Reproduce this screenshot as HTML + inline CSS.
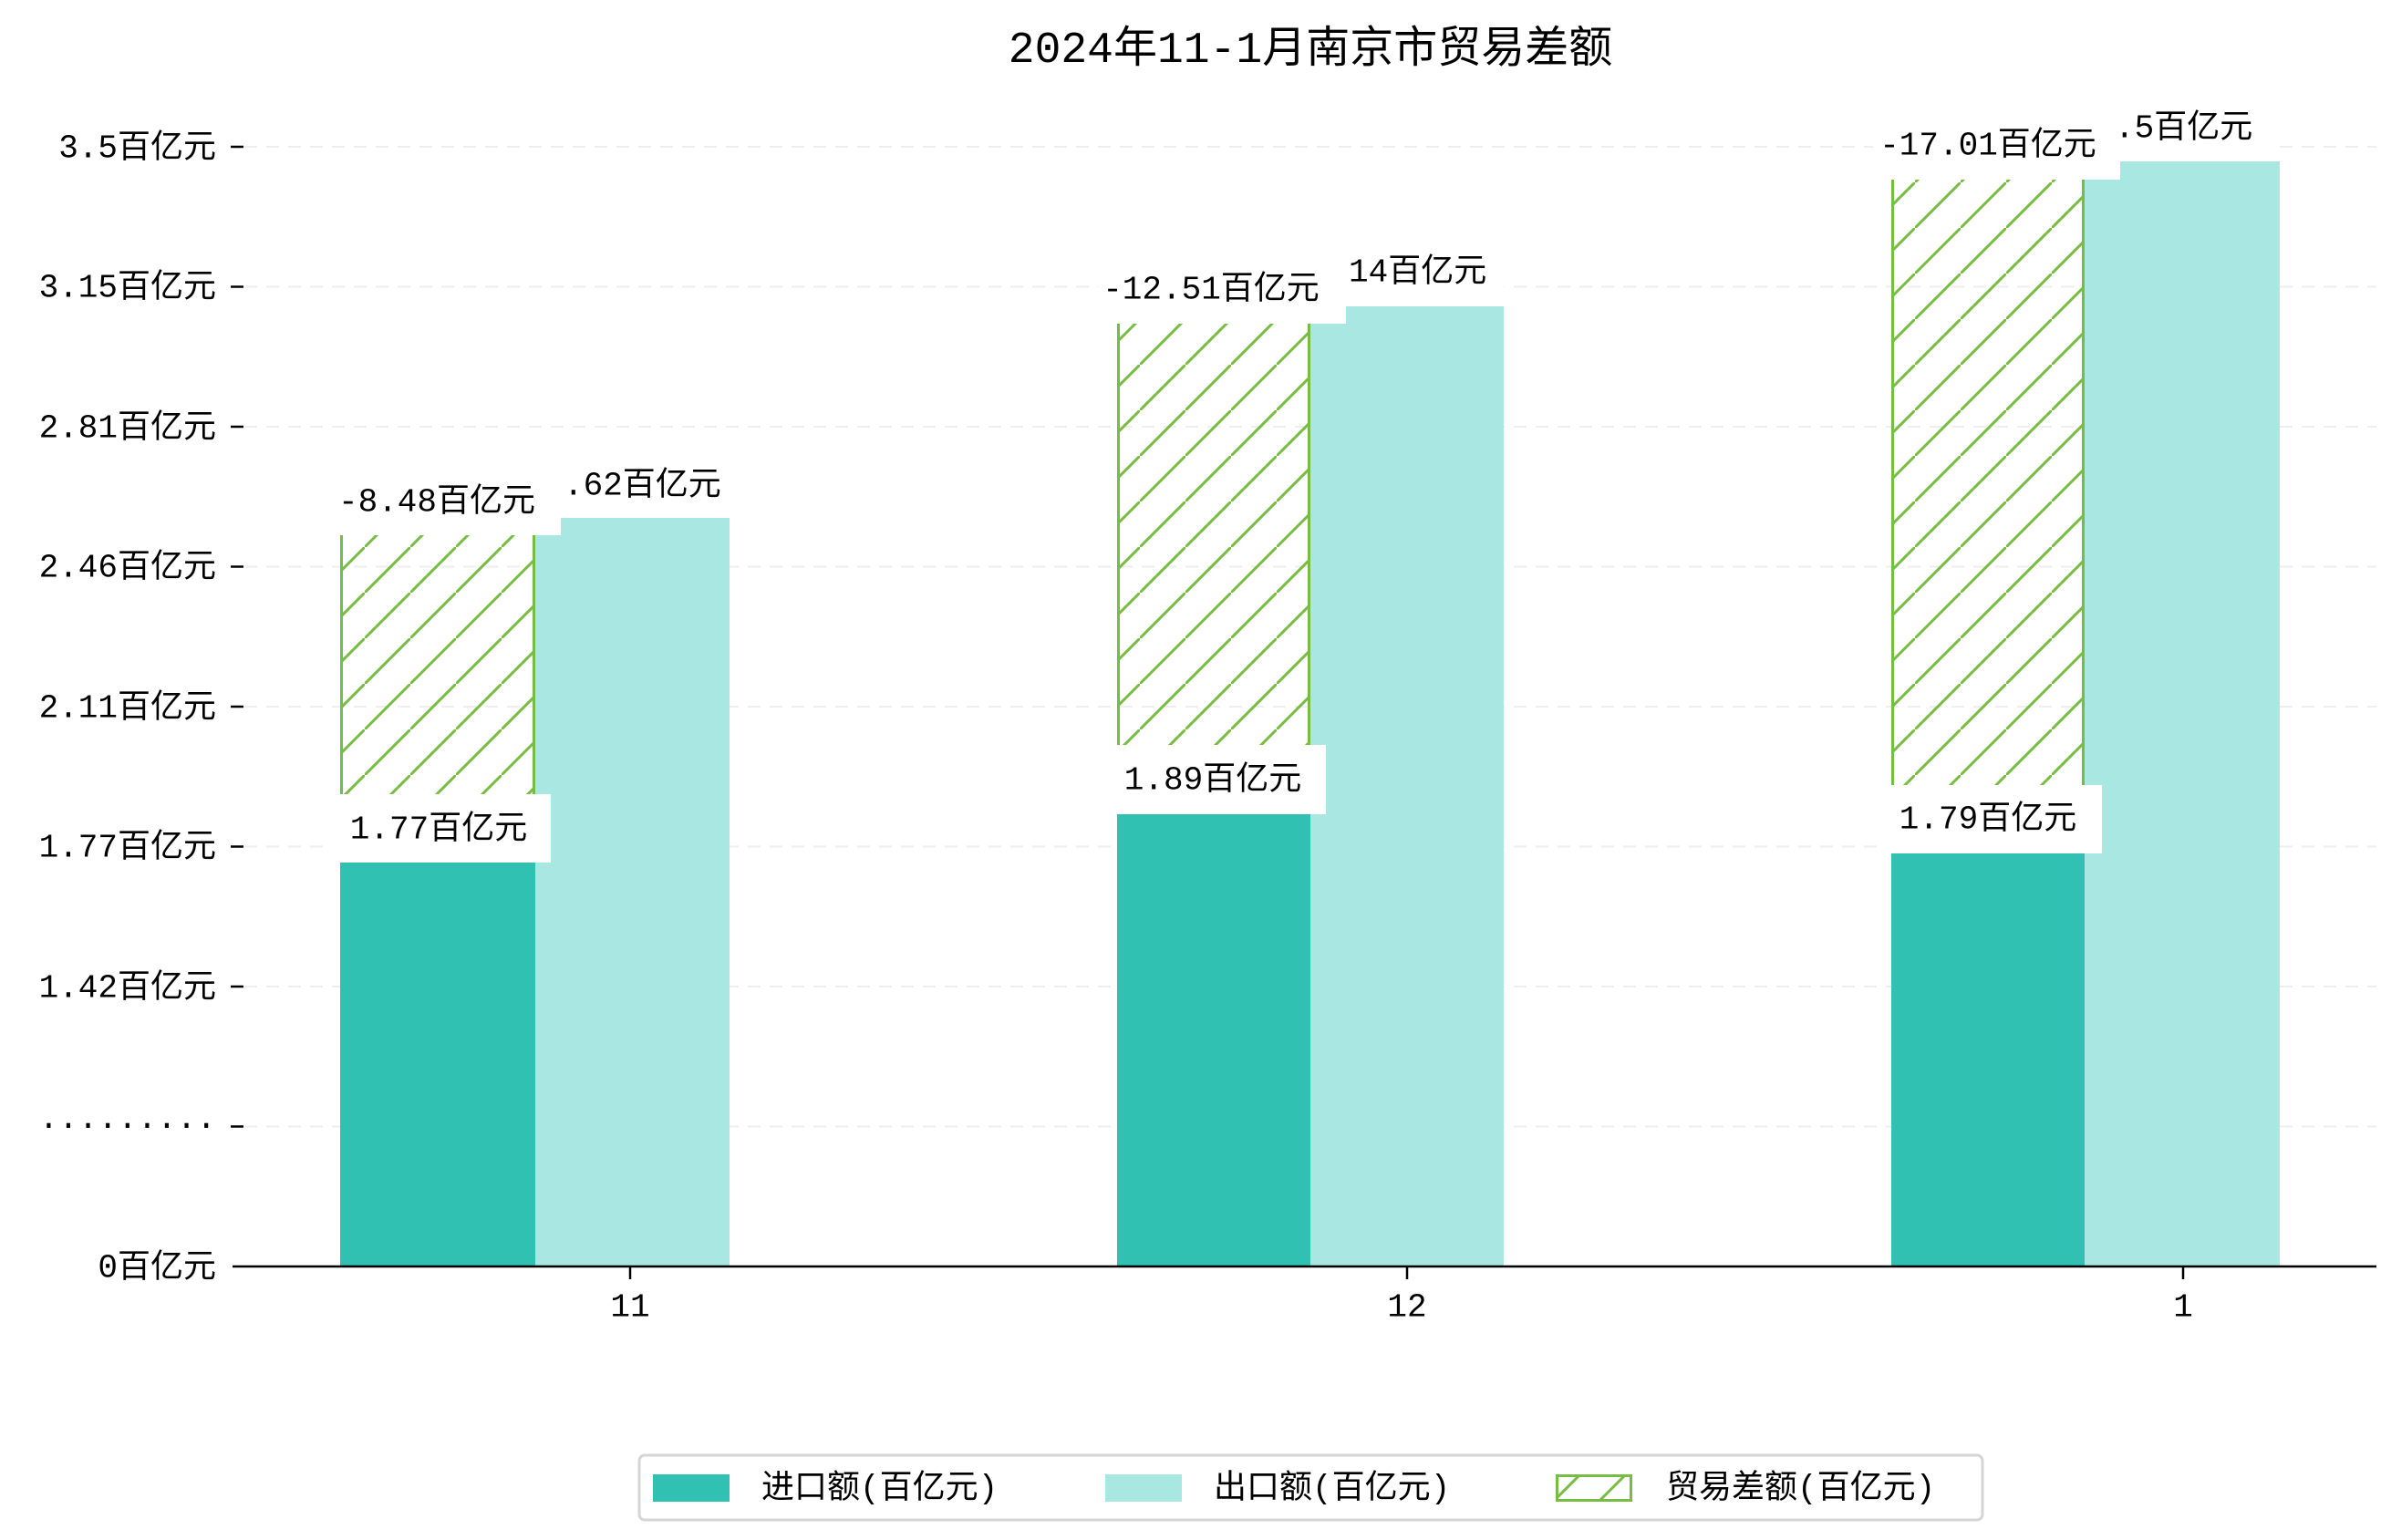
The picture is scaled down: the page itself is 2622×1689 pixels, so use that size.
<!DOCTYPE html>
<html><head><meta charset="utf-8"><style>
html,body{margin:0;padding:0;background:#fff}
svg{display:block}
text{font-family:"WenQuanYi Zen Hei","Liberation Mono","Noto Sans CJK SC",monospace;fill:#000}
</style></head><body>
<svg width="2622" height="1689" viewBox="0 0 2622 1689" xmlns="http://www.w3.org/2000/svg">
<defs>
<pattern id="h" patternUnits="userSpaceOnUse" width="50" height="50">
<line x1="-5" y1="55" x2="55" y2="-5" stroke="#78bd43" stroke-width="3"/>
</pattern>
</defs>
<text x="1437" y="56" font-size="48" text-anchor="middle" dominant-baseline="central">2024年11-1月南京市贸易差额</text>
<g stroke="#eeeeee" stroke-width="2" stroke-dasharray="14,10">
<line x1="268" y1="161" x2="2606" y2="161"/><line x1="268" y1="314.5" x2="2606" y2="314.5"/>
<line x1="268" y1="468" x2="2606" y2="468"/><line x1="268" y1="621.5" x2="2606" y2="621.5"/>
<line x1="268" y1="775" x2="2606" y2="775"/><line x1="268" y1="928.5" x2="2606" y2="928.5"/>
<line x1="268" y1="1082" x2="2606" y2="1082"/><line x1="268" y1="1235.5" x2="2606" y2="1235.5"/>
</g>
<g stroke="#000" stroke-width="2.5">
<line x1="253" y1="161" x2="267" y2="161"/><line x1="253" y1="314.5" x2="267" y2="314.5"/>
<line x1="253" y1="468" x2="267" y2="468"/><line x1="253" y1="621.5" x2="267" y2="621.5"/>
<line x1="253" y1="775" x2="267" y2="775"/><line x1="253" y1="928.5" x2="267" y2="928.5"/>
<line x1="253" y1="1082" x2="267" y2="1082"/><line x1="253" y1="1235.5" x2="267" y2="1235.5"/>
<line x1="691" y1="1389" x2="691" y2="1403"/><line x1="1543" y1="1389" x2="1543" y2="1403"/><line x1="2394" y1="1389" x2="2394" y2="1403"/>
</g>
<g font-size="36" text-anchor="end" dominant-baseline="central">
<text x="237" y="163">3.5百亿元</text><text x="237" y="316">3.15百亿元</text>
<text x="237" y="470">2.81百亿元</text><text x="237" y="623">2.46百亿元</text>
<text x="237" y="777">2.11百亿元</text><text x="237" y="930">1.77百亿元</text>
<text x="237" y="1084">1.42百亿元</text><text x="237" y="1235">·········</text>
<text x="237" y="1391">0百亿元</text>
</g>
<g font-size="36" text-anchor="middle" dominant-baseline="central">
<text x="691" y="1434">11</text><text x="1543" y="1434">12</text><text x="2394" y="1434">1</text>
</g>
<rect x="373" y="946" width="214" height="443" fill="#31c1b3"/>
<rect x="587" y="568" width="213" height="821" fill="#a9e8e2"/>
<rect x="1225" y="893" width="212" height="496" fill="#31c1b3"/>
<rect x="1437" y="336" width="212" height="1053" fill="#a9e8e2"/>
<rect x="2074" y="936" width="212" height="453" fill="#31c1b3"/>
<rect x="2286" y="177" width="214" height="1212" fill="#a9e8e2"/>
<g fill="url(#h)">
<rect x="373" y="587" width="214" height="359"/>
<rect x="1225" y="355" width="212" height="538"/>
<rect x="2074" y="197" width="212" height="739"/>
</g>
<g stroke="#78bd43" stroke-width="3">
<line x1="374.5" y1="587" x2="374.5" y2="946"/><line x1="585.5" y1="587" x2="585.5" y2="946"/>
<line x1="1226.5" y1="355" x2="1226.5" y2="893"/><line x1="1435.5" y1="355" x2="1435.5" y2="893"/>
<line x1="2075.5" y1="197" x2="2075.5" y2="936"/><line x1="2284.5" y1="197" x2="2284.5" y2="936"/>
</g>
<line x1="255" y1="1389" x2="2606" y2="1389" stroke="#000" stroke-width="2.5"/>
<g fill="#fff">
<rect x="615" y="504" width="185" height="64"/>
<rect x="1476" y="274" width="173" height="62"/>
<rect x="2325" y="114" width="175" height="63"/>
<rect x="356" y="521" width="259" height="66"/>
<rect x="1205" y="289" width="271" height="66"/>
<rect x="2054" y="131" width="271" height="66"/>
<rect x="356" y="871" width="248" height="75"/>
<rect x="1209" y="817" width="245" height="76"/>
<rect x="2058" y="861" width="247" height="75"/>
</g>
<g font-size="36" dominant-baseline="central">
<text x="618" y="533">.62百亿元</text>
<text x="1479" y="299">14百亿元</text>
<text x="2319" y="141">.5百亿元</text>
</g>
<g font-size="36" text-anchor="middle" dominant-baseline="central">
<text x="479" y="551">-8.48百亿元</text>
<text x="1328" y="318">-12.51百亿元</text>
<text x="2180" y="160">-17.01百亿元</text>
<text x="481" y="910">1.77百亿元</text>
<text x="1330" y="856">1.89百亿元</text>
<text x="2180" y="899">1.79百亿元</text>
</g>
<rect x="701" y="1596" width="1473" height="71" rx="6" fill="#fff" stroke="#d5d5d5" stroke-width="3"/>
<rect x="716" y="1617" width="84" height="30" fill="#31c1b3"/>
<rect x="1212" y="1617" width="84" height="30" fill="#a9e8e2"/>
<rect x="1707.5" y="1618.5" width="81" height="27" fill="url(#h)" stroke="#78bd43" stroke-width="3"/>
<g font-size="36" dominant-baseline="central">
<text x="835" y="1633">进口额(百亿元)</text>
<text x="1331" y="1633">出口额(百亿元)</text>
<text x="1827" y="1633">贸易差额(百亿元)</text>
</g>
</svg>
</body></html>
